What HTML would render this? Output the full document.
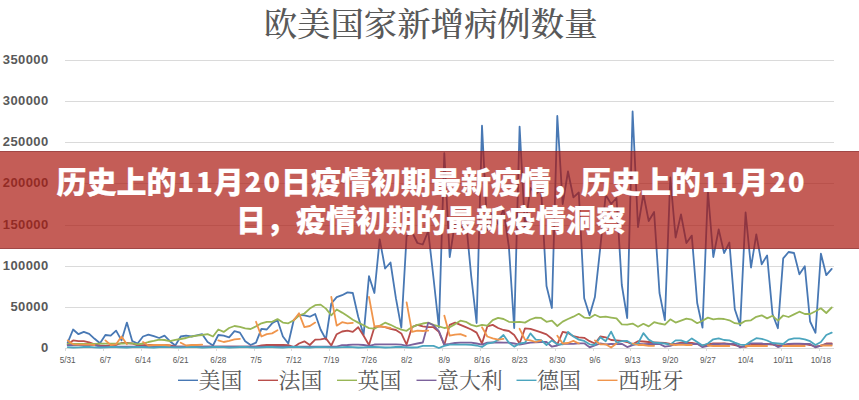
<!DOCTYPE html>
<html lang="zh-CN"><head><meta charset="utf-8"><title>欧美国家新增病例数量</title>
<style>
html,body{margin:0;padding:0;background:#fff}
body{width:859px;height:400px;position:relative;overflow:hidden;font-family:"Liberation Sans","Noto Sans CJK SC",sans-serif}
#chart{position:absolute;left:0;top:0;display:block}
.ser{fill:none;stroke-width:1.8;stroke-linejoin:round;stroke-linecap:round}
.grid{stroke:#dadada;stroke-width:1;shape-rendering:crispEdges}
.ttl{font-family:"Liberation Serif","Noto Serif CJK SC",serif;font-size:33.4px;fill:#595959;font-weight:500;text-anchor:middle}
.yl{font-family:"Liberation Sans",sans-serif;font-weight:bold;font-size:13px;fill:#595959;text-anchor:end;letter-spacing:0.4px}
.xl{font-family:"Liberation Sans",sans-serif;font-size:8.2px;fill:#595959;text-anchor:middle}
.lg{font-family:"Liberation Serif","Noto Serif CJK SC",serif;font-size:21.9px;fill:#595959}
#banner{position:absolute;left:0;top:151px;width:859px;height:98px;background:rgba(171,24,16,0.7);color:#fff;text-align:center;font-family:"Noto Sans CJK SC","Liberation Sans",sans-serif;font-weight:900;font-size:30px;line-height:40px;letter-spacing:0px;box-sizing:border-box;box-shadow:inset 0 1px 0 rgba(110,40,45,0.4),inset 0 -1px 0 rgba(110,40,45,0.4);padding-left:3px;-webkit-text-stroke:0.2px #fff;padding-top:0px;white-space:nowrap}
.bl{position:absolute;left:0;width:859px;height:40px;line-height:40px;box-sizing:border-box;padding-left:3px}
.dg{font-size:27px;letter-spacing:2.2px;margin-left:1.1px;margin-right:-1.1px;position:relative;top:-0.8px;-webkit-text-stroke:0.2px #fff}
</style></head>
<body>
<svg id="chart" width="859" height="400" viewBox="0 0 859 400">
<rect width="859" height="400" fill="#fff"/>
<text class="ttl" x="430.6" y="36.2">欧美国家新增病例数量</text>
<line class="grid" x1="65" x2="834" y1="348.5" y2="348.5"/><text class="yl" x="48.6" y="352.1">0</text>
<line class="grid" x1="65" x2="834" y1="307.5" y2="307.5"/><text class="yl" x="48.6" y="311.1">50000</text>
<line class="grid" x1="65" x2="834" y1="266.5" y2="266.5"/><text class="yl" x="48.6" y="270.1">100000</text>
<line class="grid" x1="65" x2="834" y1="225.5" y2="225.5"/><text class="yl" x="48.6" y="229.1">150000</text>
<line class="grid" x1="65" x2="834" y1="183.5" y2="183.5"/><text class="yl" x="48.6" y="187.1">200000</text>
<line class="grid" x1="65" x2="834" y1="142.5" y2="142.5"/><text class="yl" x="48.6" y="146.1">250000</text>
<line class="grid" x1="65" x2="834" y1="101.5" y2="101.5"/><text class="yl" x="48.6" y="105.1">300000</text>
<line class="grid" x1="65" x2="834" y1="60.5" y2="60.5"/><text class="yl" x="48.6" y="64.1">350000</text>
<line class="grid" x1="65.9" x2="65.9" y1="348.5" y2="350.5"/><line class="grid" x1="103.6" x2="103.6" y1="348.5" y2="350.5"/><line class="grid" x1="141.2" x2="141.2" y1="348.5" y2="350.5"/><line class="grid" x1="178.9" x2="178.9" y1="348.5" y2="350.5"/><line class="grid" x1="216.5" x2="216.5" y1="348.5" y2="350.5"/><line class="grid" x1="254.2" x2="254.2" y1="348.5" y2="350.5"/><line class="grid" x1="291.9" x2="291.9" y1="348.5" y2="350.5"/><line class="grid" x1="329.5" x2="329.5" y1="348.5" y2="350.5"/><line class="grid" x1="367.2" x2="367.2" y1="348.5" y2="350.5"/><line class="grid" x1="404.8" x2="404.8" y1="348.5" y2="350.5"/><line class="grid" x1="442.5" x2="442.5" y1="348.5" y2="350.5"/><line class="grid" x1="480.2" x2="480.2" y1="348.5" y2="350.5"/><line class="grid" x1="517.8" x2="517.8" y1="348.5" y2="350.5"/><line class="grid" x1="555.5" x2="555.5" y1="348.5" y2="350.5"/><line class="grid" x1="593.1" x2="593.1" y1="348.5" y2="350.5"/><line class="grid" x1="630.8" x2="630.8" y1="348.5" y2="350.5"/><line class="grid" x1="668.5" x2="668.5" y1="348.5" y2="350.5"/><line class="grid" x1="706.1" x2="706.1" y1="348.5" y2="350.5"/><line class="grid" x1="743.8" x2="743.8" y1="348.5" y2="350.5"/><line class="grid" x1="781.4" x2="781.4" y1="348.5" y2="350.5"/><line class="grid" x1="819.1" x2="819.1" y1="348.5" y2="350.5"/><text class="xl" x="67.7" y="363.2">5/31</text><text class="xl" x="105.4" y="363.2">6/7</text><text class="xl" x="143.0" y="363.2">6/14</text><text class="xl" x="180.7" y="363.2">6/21</text><text class="xl" x="218.3" y="363.2">6/28</text><text class="xl" x="256.0" y="363.2">7/5</text><text class="xl" x="293.7" y="363.2">7/12</text><text class="xl" x="331.3" y="363.2">7/19</text><text class="xl" x="369.0" y="363.2">7/26</text><text class="xl" x="406.6" y="363.2">8/2</text><text class="xl" x="444.3" y="363.2">8/9</text><text class="xl" x="482.0" y="363.2">8/16</text><text class="xl" x="519.6" y="363.2">8/23</text><text class="xl" x="557.3" y="363.2">8/30</text><text class="xl" x="594.9" y="363.2">9/6</text><text class="xl" x="632.6" y="363.2">9/13</text><text class="xl" x="670.3" y="363.2">9/20</text><text class="xl" x="707.9" y="363.2">9/27</text><text class="xl" x="745.6" y="363.2">10/4</text><text class="xl" x="783.2" y="363.2">10/11</text><text class="xl" x="820.9" y="363.2">10/18</text>
<polyline class="ser" stroke="#4878b4" points="67.7,342.7 73.1,329.5 78.5,334.2 83.8,331.9 89.2,333.9 94.6,338.8 100.0,343.2 105.4,335.0 110.7,335.7 116.1,330.6 121.5,340.4 126.9,322.6 132.3,341.2 137.6,343.5 143.0,336.5 148.4,334.7 153.8,336.2 159.2,338.0 164.5,335.7 169.9,341.2 175.3,345.5 180.7,336.5 186.1,335.7 191.4,336.5 196.8,335.3 202.2,334.2 207.6,341.9 213.0,345.5 218.3,335.0 223.7,335.7 229.1,337.3 234.5,331.1 239.9,332.6 245.2,341.2 250.6,345.0 256.0,342.7 261.4,328.8 266.8,329.5 272.1,323.3 277.5,320.2 282.9,336.5 288.3,343.5 293.7,320.2 299.0,314.8 304.4,315.4 309.8,316.7 315.2,314.0 320.6,329.5 325.9,339.4 331.3,303.5 336.7,297.1 342.1,295.2 347.5,292.4 352.8,293.0 358.2,316.8 363.6,334.8 369.0,276.2 374.4,293.0 379.7,239.3 385.1,268.5 390.5,262.5 395.9,298.2 401.3,327.7 406.6,236.0 412.0,232.0 417.4,243.0 422.8,244.5 428.2,231.0 433.5,278.0 438.9,327.5 444.3,153.2 449.7,257.0 455.1,222.0 460.4,230.0 465.8,219.0 471.2,276.0 476.6,323.0 482.0,125.7 487.3,230.0 492.7,212.0 498.1,224.0 503.5,209.0 508.9,247.0 514.2,328.0 519.6,126.6 525.0,228.0 530.4,188.0 535.8,194.0 541.1,189.0 546.5,286.0 551.9,308.0 557.3,116.0 562.7,204.0 568.0,171.5 573.4,197.3 578.8,192.5 584.2,298.2 589.6,315.3 594.9,297.0 600.3,247.5 605.7,195.0 611.1,204.0 616.5,198.0 621.8,285.0 627.2,318.0 632.6,111.5 638.0,227.0 643.4,194.0 648.7,221.0 654.1,212.0 659.5,293.0 664.9,320.1 670.3,177.5 675.6,237.5 681.0,214.4 686.4,243.0 691.8,235.6 697.2,303.0 702.5,327.6 707.9,191.0 713.3,257.0 718.7,229.4 724.1,253.0 729.4,242.5 734.8,309.2 740.2,325.4 745.6,212.5 751.0,267.5 756.3,234.4 761.7,264.3 767.1,255.4 772.5,314.0 777.9,328.2 783.2,258.4 788.6,252.0 794.0,253.0 799.4,274.3 804.8,266.3 810.1,321.5 815.5,332.8 820.9,253.6 826.3,275.2 831.7,268.9"/>
<polyline class="ser" stroke="#b94e4b" points="67.7,344.3 73.1,340.4 78.5,341.2 83.8,341.2 89.2,342.4 94.6,344.3 100.0,345.5 105.4,345.8 110.7,345.5 116.1,345.0 121.5,343.0 126.9,343.0 132.3,343.5 137.6,345.5 143.0,345.2 148.4,345.0 153.8,345.0 159.2,345.0 164.5,345.0 169.9,345.5 175.3,346.4 180.7,346.6 186.1,346.6 191.4,346.6 196.8,346.6 202.2,346.6 207.6,346.6 213.0,346.6 218.3,346.6 223.7,346.6 229.1,346.6 234.5,346.6 239.9,346.6 245.2,346.6 250.6,346.6 256.0,346.6 261.4,345.3 266.8,345.0 272.1,344.8 277.5,345.0 282.9,345.0 288.3,345.2 293.7,347.2 299.0,343.5 304.4,341.3 309.8,345.0 315.2,339.6 320.6,339.3 325.9,338.4 331.3,345.5 336.7,334.2 342.1,331.5 347.5,330.6 352.8,331.9 358.2,327.2 363.6,335.7 369.0,345.0 374.4,327.2 379.7,326.4 385.1,327.2 390.5,328.8 395.9,330.0 401.3,333.4 406.6,344.6 412.0,327.2 417.4,324.9 422.8,326.4 428.2,327.2 433.5,327.2 438.9,331.9 444.3,345.0 449.7,324.9 455.1,322.6 460.4,324.9 465.8,327.2 471.2,329.5 476.6,332.6 482.0,343.5 487.3,326.4 492.7,324.9 498.1,328.0 503.5,330.0 508.9,331.0 514.2,335.0 519.6,343.5 525.0,328.4 530.4,328.8 535.8,330.6 541.1,332.4 546.5,334.4 551.9,338.8 557.3,344.3 562.7,331.9 568.0,333.0 573.4,336.2 578.8,337.3 584.2,337.8 589.6,341.2 594.9,343.5 600.3,336.5 605.7,337.3 611.1,340.0 616.5,340.4 621.8,340.9 627.2,342.0 632.6,344.3 638.0,341.2 643.4,341.5 648.7,342.0 654.1,342.4 659.5,342.7 664.9,343.0 670.3,344.0 675.6,343.8 681.0,342.7 686.4,342.7 691.8,342.9 697.2,344.0 702.5,345.5 707.9,344.5 713.3,343.5 718.7,343.5 724.1,343.5 729.4,344.0 734.8,345.0 740.2,346.3 745.6,346.8 751.0,345.0 756.3,344.3 761.7,344.0 767.1,344.0 772.5,344.5 777.9,345.5 783.2,345.2 788.6,344.2 794.0,343.8 799.4,343.8 804.8,344.0 810.1,345.0 815.5,346.5 820.9,345.8 826.3,343.5 831.7,343.5"/>
<polyline class="ser" stroke="#98b656" points="67.7,344.0 73.1,343.9 78.5,343.9 83.8,343.9 89.2,343.8 94.6,343.8 100.0,343.7 105.4,343.6 110.7,343.6 116.1,343.6 121.5,343.5 126.9,343.4 132.3,343.4 137.6,344.3 143.0,343.5 148.4,342.0 153.8,340.9 159.2,339.6 164.5,340.0 169.9,341.2 175.3,339.8 180.7,339.0 186.1,338.0 191.4,336.5 196.8,335.7 202.2,335.0 207.6,334.2 213.0,336.5 218.3,329.5 223.7,331.9 229.1,328.0 234.5,326.0 239.9,326.9 245.2,328.4 250.6,329.0 256.0,326.4 261.4,323.3 266.8,321.8 272.1,321.8 277.5,319.1 282.9,322.6 288.3,323.3 293.7,320.2 299.0,315.6 304.4,313.5 309.8,308.6 315.2,305.2 320.6,304.6 325.9,308.6 331.3,315.3 336.7,309.5 342.1,312.6 347.5,316.0 352.8,319.7 358.2,322.6 363.6,325.3 369.0,328.1 374.4,328.7 379.7,325.8 385.1,322.7 390.5,324.8 395.9,327.5 401.3,329.7 406.6,330.8 412.0,327.1 417.4,324.8 422.8,323.5 428.2,322.7 433.5,324.9 438.9,326.4 444.3,328.0 449.7,327.2 455.1,324.1 460.4,320.7 465.8,321.8 471.2,324.9 476.6,326.4 482.0,324.9 487.3,325.7 492.7,320.2 498.1,317.9 503.5,319.0 508.9,321.8 514.2,322.2 519.6,321.8 525.0,322.6 530.4,319.5 535.8,317.6 541.1,317.9 546.5,321.8 551.9,320.7 557.3,326.0 562.7,321.6 568.0,319.0 573.4,316.7 578.8,313.8 584.2,317.6 589.6,318.0 594.9,314.7 600.3,317.2 605.7,316.7 611.1,317.6 616.5,318.4 621.8,324.4 627.2,324.6 632.6,323.6 638.0,326.8 643.4,323.8 648.7,326.4 654.1,322.2 659.5,323.5 664.9,324.6 670.3,319.3 675.6,322.6 681.0,320.7 686.4,318.7 691.8,319.7 697.2,323.2 702.5,320.7 707.9,317.6 713.3,319.3 718.7,318.7 724.1,319.0 729.4,320.3 734.8,323.2 740.2,323.9 745.6,320.8 751.0,320.3 756.3,316.8 761.7,315.3 767.1,318.4 772.5,315.8 777.9,320.6 783.2,315.5 788.6,317.0 794.0,314.4 799.4,311.7 804.8,314.0 810.1,314.0 815.5,311.3 820.9,308.3 826.3,313.0 831.7,307.5"/>
<polyline class="ser" stroke="#7c629c" points="67.7,345.2 73.1,345.2 78.5,345.2 83.8,345.2 89.2,345.2 94.6,345.2 100.0,346.6 105.4,346.6 110.7,346.6 116.1,346.6 121.5,346.6 126.9,346.6 132.3,346.6 137.6,346.6 143.0,346.6 148.4,346.6 153.8,346.6 159.2,346.6 164.5,346.6 169.9,346.6 175.3,346.6 180.7,346.6 186.1,346.6 191.4,346.6 196.8,346.6 202.2,346.6 207.6,346.6 213.0,346.6 218.3,346.6 223.7,346.6 229.1,346.6 234.5,346.6 239.9,346.6 245.2,346.6 250.6,346.6 256.0,346.6 261.4,346.6 266.8,346.6 272.1,346.6 277.5,346.6 282.9,346.6 288.3,346.6 293.7,346.6 299.0,346.6 304.4,346.6 309.8,346.6 315.2,346.6 320.6,346.6 325.9,346.6 331.3,346.6 336.7,346.6 342.1,345.2 347.5,345.0 352.8,344.6 358.2,344.6 363.6,345.0 369.0,345.8 374.4,344.5 379.7,344.3 385.1,344.3 390.5,344.3 395.9,344.3 401.3,344.6 406.6,345.8 412.0,344.6 417.4,343.5 422.8,342.5 428.2,322.8 433.5,325.3 438.9,331.0 444.3,344.6 449.7,344.0 455.1,343.0 460.4,342.7 465.8,342.7 471.2,342.7 476.6,343.5 482.0,344.6 487.3,342.7 492.7,342.4 498.1,342.5 503.5,342.6 508.9,342.7 514.2,343.5 519.6,344.6 525.0,343.5 530.4,342.7 535.8,342.4 541.1,342.0 546.5,342.0 551.9,346.7 557.3,345.5 562.7,343.7 568.0,343.9 573.4,343.9 578.8,343.4 584.2,343.3 589.6,347.3 594.9,345.3 600.3,343.5 605.7,344.3 611.1,343.8 616.5,344.1 621.8,343.8 627.2,347.1 632.6,345.2 638.0,343.9 643.4,344.2 648.7,343.8 654.1,344.0 659.5,344.0 664.9,346.6 670.3,345.8 675.6,343.9 681.0,343.6 686.4,343.3 691.8,344.2 697.2,343.8 702.5,347.2 707.9,345.9 713.3,344.0 718.7,344.2 724.1,343.7 729.4,344.1 734.8,343.7 740.2,347.4 745.6,345.9 751.0,343.4 756.3,343.4 761.7,343.5 767.1,344.3 772.5,343.7 777.9,347.1 783.2,345.3 788.6,343.8 794.0,343.7 799.4,343.7 804.8,343.9 810.1,343.9 815.5,347.4 820.9,345.7 826.3,344.2 831.7,344.2"/>
<polyline class="ser" stroke="#4ba5be" points="67.7,347.2 73.1,347.5 78.5,347.4 83.8,347.0 89.2,346.9 94.6,347.3 100.0,347.5 105.4,347.3 110.7,347.0 116.1,347.0 121.5,347.3 126.9,347.5 132.3,347.2 137.6,346.9 143.0,347.0 148.4,347.4 153.8,347.5 159.2,347.2 164.5,346.9 169.9,347.1 175.3,347.4 180.7,347.4 186.1,347.1 191.4,346.9 196.8,347.1 202.2,347.5 207.6,347.4 213.0,347.0 218.3,346.9 223.7,347.2 229.1,347.5 234.5,347.4 239.9,347.0 245.2,346.9 250.6,347.3 256.0,347.5 261.4,347.3 266.8,347.0 272.1,347.0 277.5,347.3 282.9,347.5 288.3,347.2 293.7,346.9 299.0,347.0 304.4,347.4 309.8,347.5 315.2,347.2 320.6,346.9 325.9,347.1 331.3,347.4 336.7,347.4 342.1,347.1 347.5,346.9 352.8,347.1 358.2,347.5 363.6,347.4 369.0,347.0 374.4,346.9 379.7,347.2 385.1,347.5 390.5,347.4 395.9,347.0 401.3,346.9 406.6,347.3 412.0,347.5 417.4,347.3 422.8,345.8 428.2,345.8 433.5,345.8 438.9,348.0 444.3,345.8 449.7,344.6 455.1,344.6 460.4,344.6 465.8,344.6 471.2,344.8 476.6,345.5 482.0,347.0 487.3,343.5 492.7,342.7 498.1,340.0 503.5,335.0 508.9,342.7 514.2,346.6 519.6,343.5 525.0,342.7 530.4,333.4 535.8,339.6 541.1,340.2 546.5,345.0 551.9,340.4 557.3,344.3 562.7,344.3 568.0,331.9 573.4,336.5 578.8,339.6 584.2,340.9 589.6,344.3 594.9,345.0 600.3,337.3 605.7,341.2 611.1,331.6 616.5,342.7 621.8,341.2 627.2,340.9 632.6,344.3 638.0,343.5 643.4,333.1 648.7,339.6 654.1,342.7 659.5,343.0 664.9,343.5 670.3,344.6 675.6,340.4 681.0,340.4 686.4,342.4 691.8,338.4 697.2,342.0 702.5,345.5 707.9,343.5 713.3,339.3 718.7,338.4 724.1,340.0 729.4,340.4 734.8,342.7 740.2,344.6 745.6,345.0 751.0,341.2 756.3,338.2 761.7,338.8 767.1,340.5 772.5,343.0 777.9,343.5 783.2,344.0 788.6,339.6 794.0,338.4 799.4,338.4 804.8,339.3 810.1,341.2 815.5,345.0 820.9,342.0 826.3,335.0 831.7,332.6"/>
<polyline class="ser" stroke="#f0954c" points="67.7,340.4 73.1,344.3 78.5,344.6 83.8,344.6 89.2,344.6 94.6,345.0"/>
<polyline class="ser" stroke="#f0954c" points="105.4,340.4 110.7,345.0 116.1,344.3 121.5,336.5 126.9,344.3"/>
<polyline class="ser" stroke="#f0954c" points="143.0,342.0 148.4,345.5 153.8,345.0 159.2,345.0 164.5,345.0 169.9,345.5"/>
<polyline class="ser" stroke="#f0954c" points="180.7,342.7 186.1,345.5 191.4,345.0 196.8,345.0 202.2,344.6"/>
<polyline class="ser" stroke="#f0954c" points="218.3,340.4 223.7,342.0 229.1,340.9 234.5,339.3 239.9,338.8"/>
<polyline class="ser" stroke="#f0954c" points="256.0,321.8 261.4,336.5 266.8,334.2 272.1,333.4 277.5,330.3"/>
<polyline class="ser" stroke="#f0954c" points="293.7,320.2 299.0,313.3 304.4,327.2 309.8,326.0 315.2,322.6"/>
<polyline class="ser" stroke="#f0954c" points="331.3,297.0 336.7,325.7 342.1,322.2 347.5,323.3 352.8,322.9"/>
<polyline class="ser" stroke="#f0954c" points="369.0,297.0 374.4,326.4 379.7,326.0 385.1,327.2 390.5,328.0"/>
<polyline class="ser" stroke="#f0954c" points="406.6,302.4 412.0,331.9 417.4,330.6 422.8,331.0 428.2,330.6"/>
<polyline class="ser" stroke="#f0954c" points="444.3,315.6 449.7,335.7 455.1,334.6 460.4,334.2 465.8,336.2"/>
<polyline class="ser" stroke="#f0954c" points="482.0,327.2 487.3,336.5 492.7,338.4 498.1,339.6 503.5,338.8"/>
<polyline class="ser" stroke="#f0954c" points="519.6,328.8 525.0,339.6 530.4,340.4 535.8,342.0 541.1,340.4"/>
<polyline class="ser" stroke="#f0954c" points="557.3,335.7 562.7,343.5 568.0,343.0 573.4,340.9 578.8,343.5"/>
<polyline class="ser" stroke="#f0954c" points="594.9,340.4 600.3,344.3 605.7,344.3 611.1,347.5 616.5,343.5"/>
<polyline class="ser" stroke="#f0954c" points="632.6,343.5 638.0,345.0 643.4,345.0 648.7,345.8 654.1,345.8"/>
<polyline class="ser" stroke="#f0954c" points="670.3,344.3 675.6,345.0 681.0,344.6 686.4,345.0 691.8,345.0"/>
<polyline class="ser" stroke="#f0954c" points="707.9,345.5 713.3,346.0 718.7,345.8 724.1,346.0 729.4,346.0"/>
<polyline class="ser" stroke="#f0954c" points="745.6,346.0 751.0,346.0 756.3,346.0 761.7,346.0 767.1,346.0"/>
<polyline class="ser" stroke="#f0954c" points="783.2,346.0 788.6,346.0 794.0,346.0 799.4,346.0 804.8,346.0"/>
<polyline class="ser" stroke="#f0954c" points="820.9,345.5 826.3,345.5 831.7,345.5"/>
<line x1="178.0" x2="198.0" y1="380.3" y2="380.3" stroke="#4878b4" stroke-width="1.4"/><text class="lg" x="198.5" y="388.4">美国</text>
<line x1="258.0" x2="278.0" y1="380.3" y2="380.3" stroke="#b94e4b" stroke-width="1.4"/><text class="lg" x="278.5" y="388.4">法国</text>
<line x1="337.0" x2="357.0" y1="380.3" y2="380.3" stroke="#98b656" stroke-width="1.4"/><text class="lg" x="357.5" y="388.4">英国</text>
<line x1="416.5" x2="436.5" y1="380.3" y2="380.3" stroke="#7c629c" stroke-width="1.4"/><text class="lg" x="437.0" y="388.4">意大利</text>
<line x1="516.5" x2="536.5" y1="380.3" y2="380.3" stroke="#4ba5be" stroke-width="1.4"/><text class="lg" x="537.0" y="388.4">德国</text>
<line x1="597.5" x2="617.5" y1="380.3" y2="380.3" stroke="#f0954c" stroke-width="1.4"/><text class="lg" x="618.0" y="388.4">西班牙</text>
</svg>
<div id="banner"><div class="bl" style="top:8.5px">历史上的<span class="dg">11</span>月<span class="dg">20</span>日疫情初期最新疫情，历史上的<span class="dg">11</span>月<span class="dg">20</span></div><div class="bl" style="top:47.4px">日，疫情初期的最新疫情洞察</div></div>
</body></html>
